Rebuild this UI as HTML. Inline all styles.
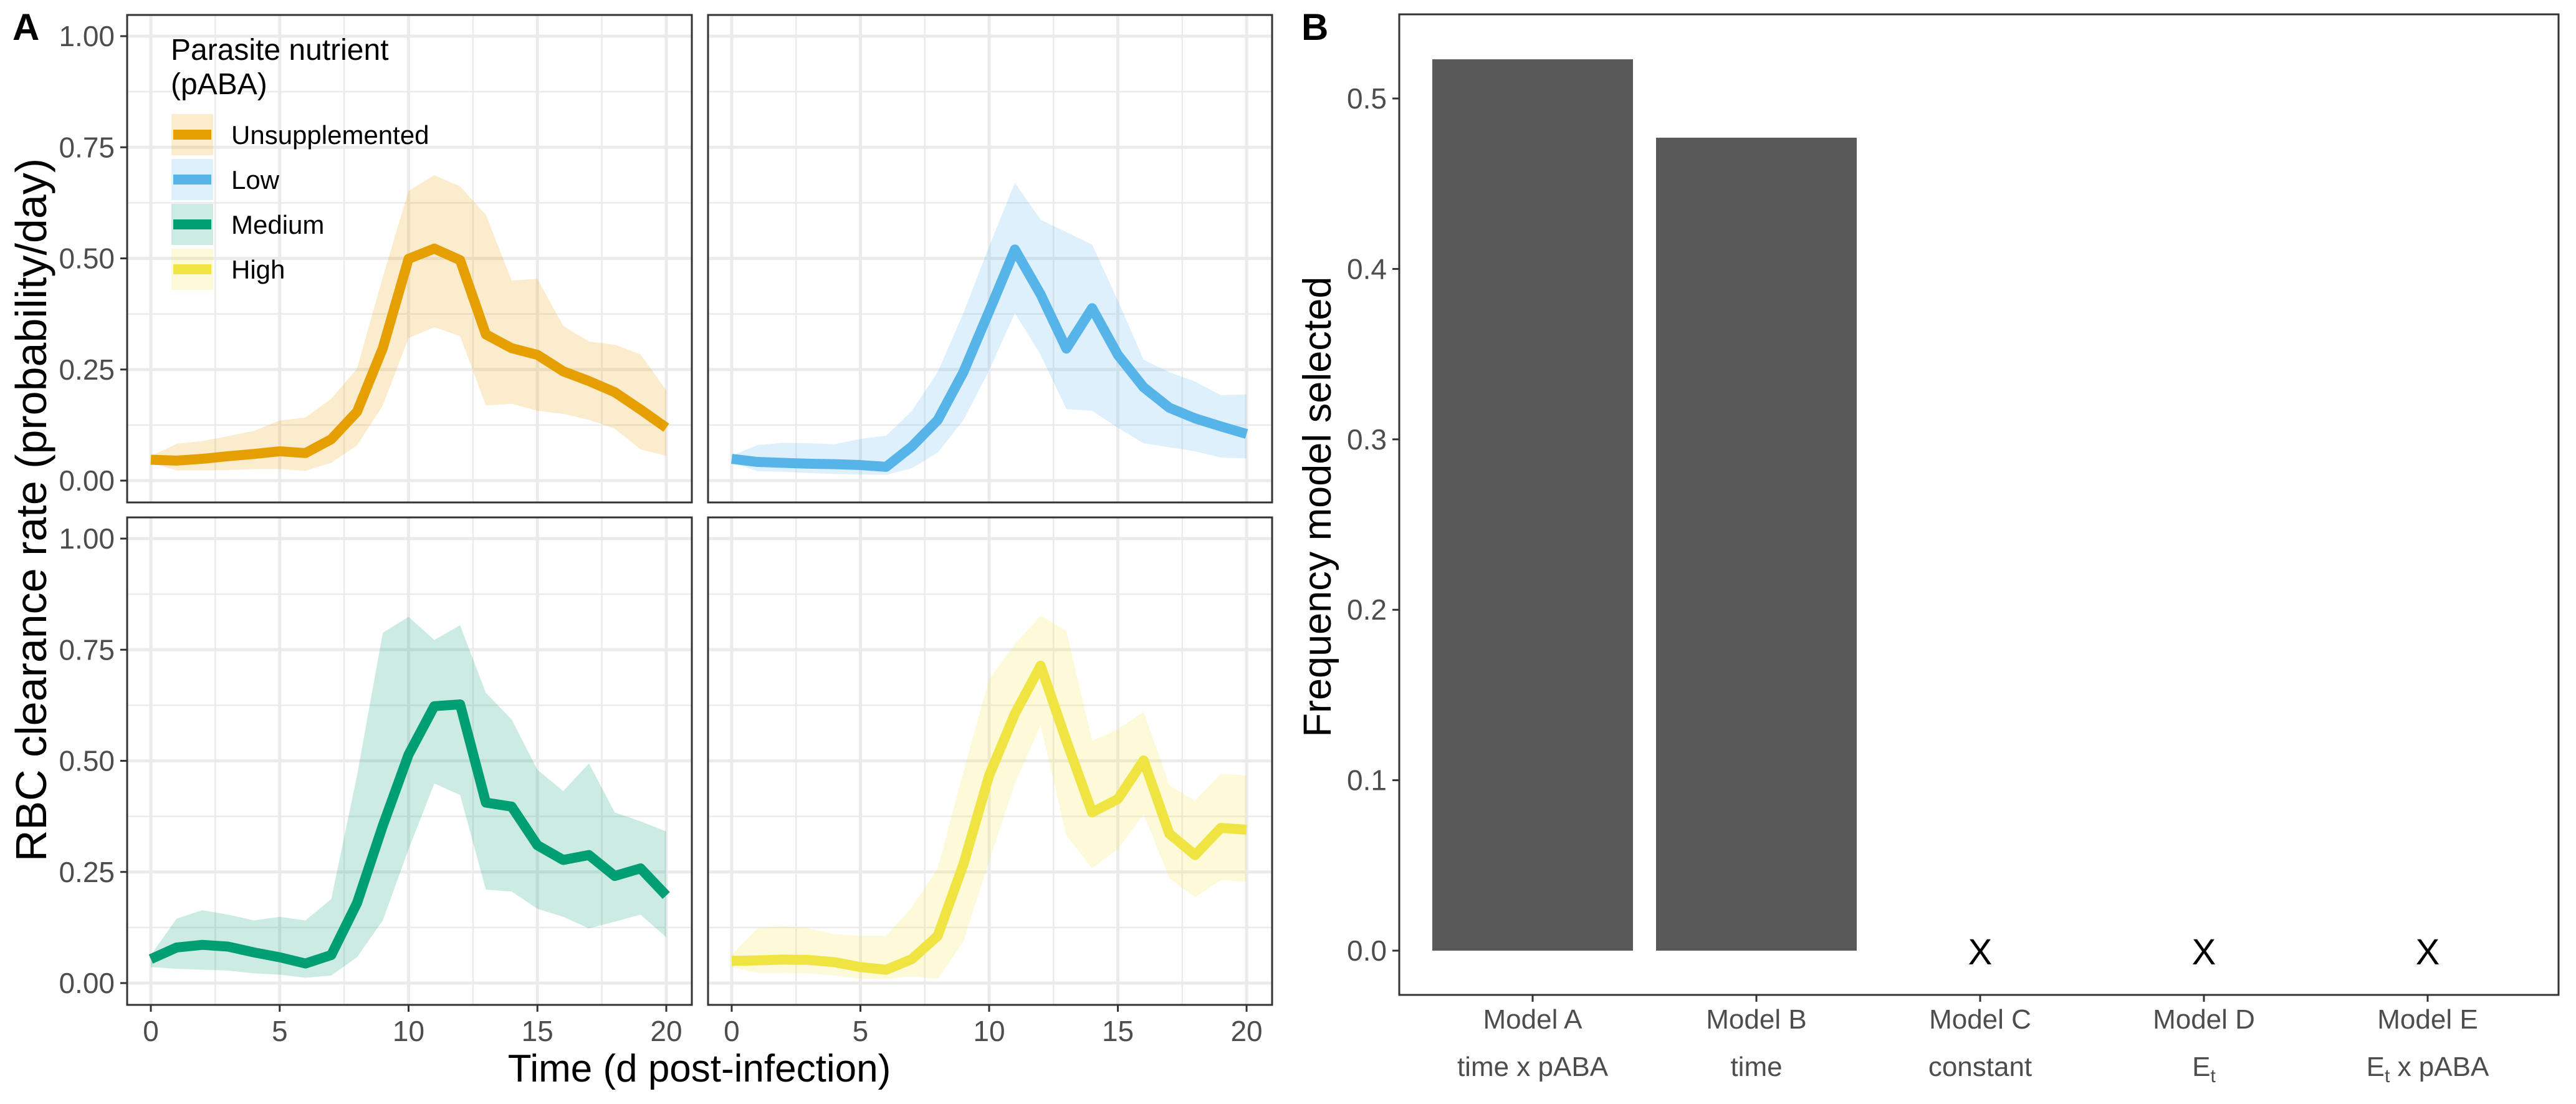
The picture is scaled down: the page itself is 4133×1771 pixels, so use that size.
<!DOCTYPE html>
<html><head><meta charset="utf-8">
<style>
html,body{margin:0;padding:0;background:#fff;}
svg{display:block;}
.nar{font-family:"Liberation Sans Narrow","Liberation Sans",sans-serif;}
.reg{font-family:"Liberation Sans",sans-serif;}
</style></head>
<body>
<svg id="fig" width="4133" height="1771" viewBox="0 0 4133 1771" xmlns="http://www.w3.org/2000/svg">
<rect x="0" y="0" width="4133" height="1771" fill="#fff"/>
<g id="panelA"></g>
<g id="panelB"></g>
</svg>
<script>
const days = [0,1,2,3,4,5,6,7,8,9,10,11,12,13,14,15,16,17,18,19,20];
const seriesNames = ["Unsupplemented","Low","Medium","High"];
const seriesColors = ["#E69F00","#56B4E9","#009E73","#F0E442"];
const unsupLine = [0.047,0.045,0.049,0.055,0.06,0.066,0.062,0.093,0.155,0.298,0.499,0.522,0.496,0.329,0.298,0.283,0.246,0.224,0.199,0.16,0.119];
const unsupHi = [0.055,0.083,0.089,0.1,0.112,0.135,0.142,0.184,0.252,0.458,0.652,0.687,0.662,0.598,0.45,0.454,0.348,0.313,0.306,0.284,0.203];
const unsupLo = [0.04,0.023,0.023,0.024,0.026,0.026,0.022,0.04,0.079,0.169,0.321,0.345,0.325,0.169,0.173,0.157,0.15,0.137,0.117,0.07,0.056];
const lowLine = [0.049,0.042,0.04,0.038,0.037,0.035,0.031,0.077,0.136,0.244,0.381,0.52,0.419,0.297,0.388,0.283,0.21,0.164,0.14,0.122,0.105];
const lowHi = [0.056,0.08,0.085,0.084,0.082,0.094,0.101,0.157,0.244,0.377,0.527,0.67,0.587,0.559,0.531,0.405,0.272,0.244,0.223,0.192,0.194];
const lowLo = [0.042,0.021,0.02,0.017,0.015,0.014,0.013,0.028,0.063,0.136,0.248,0.377,0.283,0.161,0.157,0.119,0.084,0.075,0.066,0.052,0.05];
const medLine = [0.054,0.08,0.086,0.082,0.069,0.058,0.044,0.063,0.18,0.354,0.514,0.623,0.627,0.406,0.397,0.31,0.277,0.288,0.241,0.258,0.197];
const medHi = [0.063,0.145,0.164,0.154,0.141,0.149,0.141,0.189,0.467,0.788,0.824,0.772,0.805,0.653,0.593,0.48,0.432,0.494,0.384,0.364,0.341];
const medLo = [0.036,0.032,0.03,0.028,0.022,0.019,0.012,0.017,0.058,0.141,0.301,0.449,0.423,0.21,0.206,0.167,0.149,0.123,0.138,0.154,0.103];
const highLine = [0.05,0.051,0.053,0.052,0.047,0.036,0.03,0.054,0.106,0.267,0.467,0.606,0.714,0.545,0.384,0.414,0.501,0.336,0.288,0.349,0.345];
const highHi = [0.063,0.123,0.128,0.123,0.11,0.106,0.106,0.171,0.258,0.475,0.684,0.762,0.827,0.792,0.545,0.571,0.61,0.445,0.41,0.471,0.467];
const highLo = [0.036,0.023,0.023,0.022,0.017,0.01,0.009,0.015,0.009,0.093,0.275,0.449,0.58,0.332,0.258,0.301,0.38,0.236,0.193,0.232,0.228];
const yTicksA = [0,0.25,0.5,0.75,1];
const yTickLabelsA = ["0.00","0.25","0.50","0.75","1.00"];
const xTicksA = [0,5,10,15,20];
const xTickLabelsA = ["0","5","10","15","20"];
const models = ["Model A","Model B","Model C","Model D","Model E"];
const modelSub = ["time x pABA","time","constant","E|t","E|t x pABA"];
const freq = [0.523,0.477,0,0,0];
const yTicksB = [0,0.1,0.2,0.3,0.4,0.5];
const yTickLabelsB = ["0.0","0.1","0.2","0.3","0.4","0.5"];

const NS="http://www.w3.org/2000/svg";
function mk(tag, attrs, parent){const e=document.createElementNS(NS,tag);for(const k in attrs)e.setAttribute(k,attrs[k]);parent.appendChild(e);return e;}

const A=document.getElementById('panelA');
const panels=[
 {x0:204,x1:1110,y0:24,y1:806,line:unsupLine,hi:unsupHi,lo:unsupLo,c:0,left:true,bottom:false},
 {x0:1136,x1:2041,y0:24,y1:806,line:lowLine,hi:lowHi,lo:lowLo,c:1,left:false,bottom:false},
 {x0:204,x1:1110,y0:830,y1:1612,line:medLine,hi:medHi,lo:medLo,c:2,left:true,bottom:true},
 {x0:1136,x1:2041,y0:830,y1:1612,line:highLine,hi:highHi,lo:highLo,c:3,left:false,bottom:true}
];
panels.forEach((p,i)=>{
 const W=p.x1-p.x0, H=p.y1-p.y0;
 const xs=d=>p.x0+W*(38/906)+ (d/20)*(W*(827/906));
 const ys=v=>p.y1-H*(35/782)-v*(H*(713/782));
 const g=mk('g',{},A);
 
 
 [0.125,0.375,0.625,0.875].forEach(v=>{const l=mk('line',{x1:p.x0,x2:p.x1,y1:ys(v),y2:ys(v),stroke:'#ebebeb','stroke-width':2.5},g);});
 [2.5,7.5,12.5,17.5].forEach(v=>{const l=mk('line',{y1:p.y0,y2:p.y1,x1:xs(v),x2:xs(v),stroke:'#ebebeb','stroke-width':2.5},g);});
 yTicksA.forEach(v=>{const l=mk('line',{x1:p.x0,x2:p.x1,y1:ys(v),y2:ys(v),stroke:'#ebebeb','stroke-width':5},g);});
 xTicksA.forEach(v=>{const l=mk('line',{y1:p.y0,y2:p.y1,x1:xs(v),x2:xs(v),stroke:'#ebebeb','stroke-width':5},g);});
 let d='M'+days.map(k=>xs(k)+','+ys(p.hi[k])).join(' L')+' L'+days.slice().reverse().map(k=>xs(k)+','+ys(p.lo[k])).join(' L')+' Z';
 const rb=mk('path',{d:d,fill:seriesColors[p.c],'fill-opacity':0.2,stroke:'none'},g);
 
 
 const ln=mk('polyline',{points:days.map(k=>xs(k)+','+ys(p.line[k])).join(' '),fill:'none',stroke:seriesColors[p.c],'stroke-width':16,'stroke-linejoin':'round'},g);
 
 
 const br=mk('rect',{x:p.x0,y:p.y0,width:W,height:H,fill:'none',stroke:'#333','stroke-width':3},g);
 
 
 if(p.left){yTicksA.forEach((v,j)=>{
  mk('line',{x1:p.x0-11,x2:p.x0,y1:ys(v),y2:ys(v),stroke:'#333','stroke-width':3},g);
  const t=mk('text',{x:p.x0-20,y:ys(v)+16,'text-anchor':'end','font-size':46,fill:'#4d4d4d',class:'nar'},g);
  t.textContent=yTickLabelsA[j];
  
  
 });}
 if(p.bottom){xTicksA.forEach((v,j)=>{
  mk('line',{x1:xs(v),x2:xs(v),y1:p.y1,y2:p.y1+11,stroke:'#333','stroke-width':3},g);
  const t=mk('text',{x:xs(v),y:p.y1+58,'text-anchor':'middle','font-size':46,fill:'#4d4d4d',class:'nar'},g);
  t.textContent=xTickLabelsA[j];
  
  
 });}
});
const lg=mk('g',{},A);


const lt1=mk('text',{x:274,y:96,'font-size':48,fill:'#000',class:'nar'},lg);lt1.textContent='Parasite nutrient';


const lt2=mk('text',{x:274,y:151,'font-size':48,fill:'#000',class:'nar'},lg);lt2.textContent='(pABA)';


seriesNames.forEach((n,i)=>{
 const cy=216+i*72;
 const e=mk('g',{},lg);
 
 
 mk('rect',{x:275,y:cy-33,width:67,height:66,fill:seriesColors[i],'fill-opacity':0.2},e);
 mk('line',{x1:278,x2:339,y1:cy,y2:cy,stroke:seriesColors[i],'stroke-width':16},e);
 const t=mk('text',{x:371,y:cy+15,'font-size':42,fill:'#000',class:'nar'},e);t.textContent=n;
});
const la=mk('text',{x:20,y:64,'font-size':60,'font-weight':'bold',fill:'#000',class:'reg'},A);la.textContent='A';


const yt=mk('text',{x:0,y:0,transform:'translate(74,818) rotate(-90)','text-anchor':'middle','font-size':70,fill:'#000',class:'reg'},A);yt.textContent='RBC clearance rate (probability/day)';


const xt=mk('text',{x:1122,y:1735,'text-anchor':'middle','font-size':62,fill:'#000',class:'nar'},A);xt.textContent='Time (d post-infection)';



const B=document.getElementById('panelB');
const bx0=2245,bx1=4105,by0=23,by1=1596;
const bxs=i=>2459+i*359;
const bys=v=>1525-v*2734;
models.forEach((m,i)=>{
 if(freq[i]>0){
  const r=mk('rect',{x:bxs(i)-161,y:bys(freq[i]),width:322,height:bys(0)-bys(freq[i]),fill:'#595959'},B);
  
  
 } else {
  const t=mk('text',{x:bxs(i),y:bys(0)+22,'text-anchor':'middle','font-size':58,fill:'#000',class:'nar'},B);t.textContent='X';
  
  
 }
 mk('line',{x1:bxs(i),x2:bxs(i),y1:by1,y2:by1+11,stroke:'#333','stroke-width':3},B);
 const t1=mk('text',{x:bxs(i),y:1650,'text-anchor':'middle','font-size':44,fill:'#4d4d4d',class:'nar'},B);t1.textContent=m;
 
 
 const t2=mk('text',{x:bxs(i),y:1726,'text-anchor':'middle','font-size':44,fill:'#4d4d4d',class:'nar'},B);
 
 
 const s=modelSub[i];
 if(s.indexOf('|')>=0){const parts=s.split('|');const rest=parts[1].slice(1);
  const a=mk('tspan',{},t2);a.textContent=parts[0];
  const b=mk('tspan',{'font-size':30,dy:10},t2);b.textContent=parts[1][0];
  if(rest){const c=mk('tspan',{dy:-10},t2);c.textContent=rest;}
 } else t2.textContent=s;
});
yTicksB.forEach((v,j)=>{
 mk('line',{x1:bx0-11,x2:bx0,y1:bys(v),y2:bys(v),stroke:'#333','stroke-width':3},B);
 const t=mk('text',{x:bx0-20,y:bys(v)+16,'text-anchor':'end','font-size':46,fill:'#4d4d4d',class:'nar'},B);t.textContent=yTickLabelsB[j];
 
 
});
const bb=mk('rect',{x:bx0,y:by0,width:bx1-bx0,height:by1-by0,fill:'none',stroke:'#333','stroke-width':3},B);


const lb=mk('text',{x:2088,y:64,'font-size':60,'font-weight':'bold',fill:'#000',class:'reg'},B);lb.textContent='B';


const ybt=mk('text',{x:0,y:0,transform:'translate(2135,813) rotate(-90)','text-anchor':'middle','font-size':63,fill:'#000',class:'reg'},B);ybt.textContent='Frequency model selected';


</script>
</body></html>
